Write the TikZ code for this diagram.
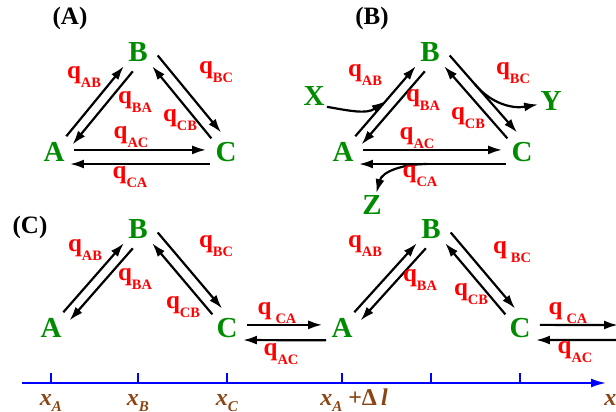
\documentclass[tikz,border=0pt]{standalone}
\usepackage{fontspec}
\setmainfont{Liberation Serif}
\usetikzlibrary{arrows.meta,calc}
\definecolor{StateGreen}{HTML}{008C00}
\definecolor{RateRed}{HTML}{FF0000}
\definecolor{AxisBlue}{HTML}{0000FF}
\definecolor{AxisBrown}{HTML}{8B4513}
\newcommand{\rate}[1]{q\raisebox{-4.5pt}{\fontsize{7.2}{8}\selectfont #1}}
\newcommand{\xsub}[1]{\textit{x}\raisebox{-3pt}{\fontsize{7.5}{8}\selectfont\textit{#1}}}
\tikzset{
  chem/.style={circle, inner sep=0pt, outer sep=0pt, minimum size=20pt, text=StateGreen, font=\fontsize{14.5}{15}\selectfont\bfseries},
  ext/.style={inner sep=1pt, text=StateGreen, font=\fontsize{14.5}{15}\selectfont\bfseries},
  ratelbl/.style={inner sep=0pt, text=RateRed, font=\fontsize{12.5}{13}\selectfont\bfseries},
  panel/.style={inner sep=0pt, font=\fontsize{12.5}{13}\selectfont\bfseries},
  arrow/.style={-{Latex[length=7pt,width=4.5pt]}, line width=1.1pt, draw=black},
  xaxis/.style={-{Latex[length=7.5pt,width=4.5pt]}, line width=1pt, draw=AxisBlue},
  tickmark/.style={line width=1pt, draw=AxisBlue},
  axlbl/.style={inner sep=0pt, text=AxisBrown, font=\fontsize{12}{13}\selectfont\bfseries}
}
\begin{document}
\begin{tikzpicture}[x=0.5pt, y=-0.5pt]
\useasboundingbox (0,0) rectangle (616,412);
\clip (0,0) rectangle (616,412);

% (A) closed triangle
\node[panel] (pa) at (70,18) {(A)};
\node[chem] (A1) at (54,152) {A};
\node[chem] (B1) at (138,52) {B};
\node[chem] (C1) at (226,152) {C};
\draw[arrow] (A1.52) -- (B1.225);
\draw[arrow] (B1.255) -- (A1.22);
\draw[arrow] (B1.-10) -- (C1.104);
\draw[arrow] (C1.137) -- (B1.-45);
\draw[arrow] (A1.6) -- (C1.174);
\draw[arrow] (C1.217) -- (A1.-37);
\node[ratelbl] (qab1) at (84,77) {\rate{AB}};
\node[ratelbl] (qba1) at (135,102) {\rate{BA}};
\node[ratelbl] (qbc1) at (216,72) {\rate{BC}};
\node[ratelbl] (qcb1) at (180,120) {\rate{CB}};
\node[ratelbl] (qac1) at (131,137) {\rate{AC}};
\node[ratelbl] (qca1) at (130,177) {\rate{CA}};

% (B) triangle with X, Y, Z
\node[panel] (pb) at (372,18) {(B)};
\node[chem] (A2) at (343,152) {A};
\node[chem] (B2) at (430,52) {B};
\node[chem] (C2) at (522,152) {C};
\node[ext] (X) at (314,96) {X};
\node[ext] (Y) at (551,101) {Y};
\node[ext] (Z) at (372,205) {Z};
\draw[arrow] (A2.52) -- coordinate[pos=0.5] (xin) (B2.225);
\draw[arrow] (B2.255) -- (A2.22);
\draw[arrow] (B2.-10) -- coordinate[pos=0.37] (yout) (C2.104);
\draw[arrow] (C2.137) -- (B2.-45);
\draw[arrow] (A2.6) -- (C2.174);
\draw[arrow] (C2.217) -- coordinate[pos=0.54] (zout) (A2.-37);
\draw[arrow] (X.-40) to[out=-10, in=215] (xin);
\draw[arrow] (yout) to[out=-50, in=190] (Y.195);
\draw[arrow] (zout) to[out=180, in=75] (Z.70);
\node[ratelbl] (qab2) at (365,75) {\rate{AB}};
\node[ratelbl] (qba2) at (423,100) {\rate{BA}};
\node[ratelbl] (qbc2) at (513,73) {\rate{BC}};
\node[ratelbl] (qcb2) at (468,118) {\rate{CB}};
\node[ratelbl] (qac2) at (417,138) {\rate{AC}};
\node[ratelbl] (qca2) at (420,176) {\rate{CA}};

% (C) open chain along x
\node[panel] (pc) at (30,227) {(C)};
\node[chem] (A3) at (51,328) {A};
\node[chem] (B3) at (138,229) {B};
\node[chem] (C3) at (227,328) {C};
\node[chem] (A4) at (342,328) {A};
\node[chem] (B4) at (431,229) {B};
\node[chem] (C4) at (520,328) {C};
\coordinate (rtop) at (618,325);
\coordinate (rbot) at (618,340);
\draw[arrow] (A3.52) -- (B3.225);
\draw[arrow] (B3.255) -- (A3.22);
\draw[arrow] (B3.-10) -- (C3.104);
\draw[arrow] (C3.137) -- (B3.-45);
\draw[arrow] (C3.9) -- (A4.171);
\draw[arrow] (A4.218) -- (C3.-37);
\draw[arrow] (A4.52) -- (B4.225);
\draw[arrow] (B4.255) -- (A4.22);
\draw[arrow] (B4.-10) -- (C4.104);
\draw[arrow] (C4.137) -- (B4.-45);
\draw[arrow] (C4.9) -- (rtop);
\draw[arrow] (rbot) -- (C4.-37);
\node[ratelbl] (qab3) at (85,250) {\rate{AB}};
\node[ratelbl] (qba3) at (135,279) {\rate{BA}};
\node[ratelbl] (qbc3) at (216,246) {\rate{BC}};
\node[ratelbl] (qcb3) at (183,307) {\rate{CB}};
\node[ratelbl] (qca3) at (277,313) {\rate{\hspace{2pt}CA}};
\node[ratelbl] (qac3) at (281,354) {\rate{AC}};
\node[ratelbl] (qab4) at (365,246) {\rate{AB}};
\node[ratelbl] (qba4) at (420,280) {\rate{BA}};
\node[ratelbl] (qbc4) at (512,252) {\rate{\hspace{2pt}BC}};
\node[ratelbl] (qcb4) at (471,294) {\rate{CB}};
\node[ratelbl] (qca4) at (568,313) {\rate{\hspace{2pt}CA}};
\node[ratelbl] (qac4) at (575,352) {\rate{AC}};

% position axis
\coordinate (ax0) at (22,383);
\coordinate (ax1) at (606,383);
\draw[xaxis] (ax0) -- (ax1);
\foreach \n in {A3,B3,C3,A4,B4,C4}
  \draw[tickmark] (\n |- ax0) -- ++(0,-10);
\node[axlbl, anchor=base] (xa) at (51,405) {\xsub{A}};
\node[axlbl, anchor=base] (xb) at (138,405) {\xsub{B}};
\node[axlbl, anchor=base] (xc) at (227,405) {\xsub{C}};
\node[axlbl, anchor=base] (xd) at (354,405) {\xsub{A} +Δ\,\textit{l}};
\node[axlbl, anchor=base west] (xe) at (604,405) {\textit{x}};
\end{tikzpicture}
\end{document}
